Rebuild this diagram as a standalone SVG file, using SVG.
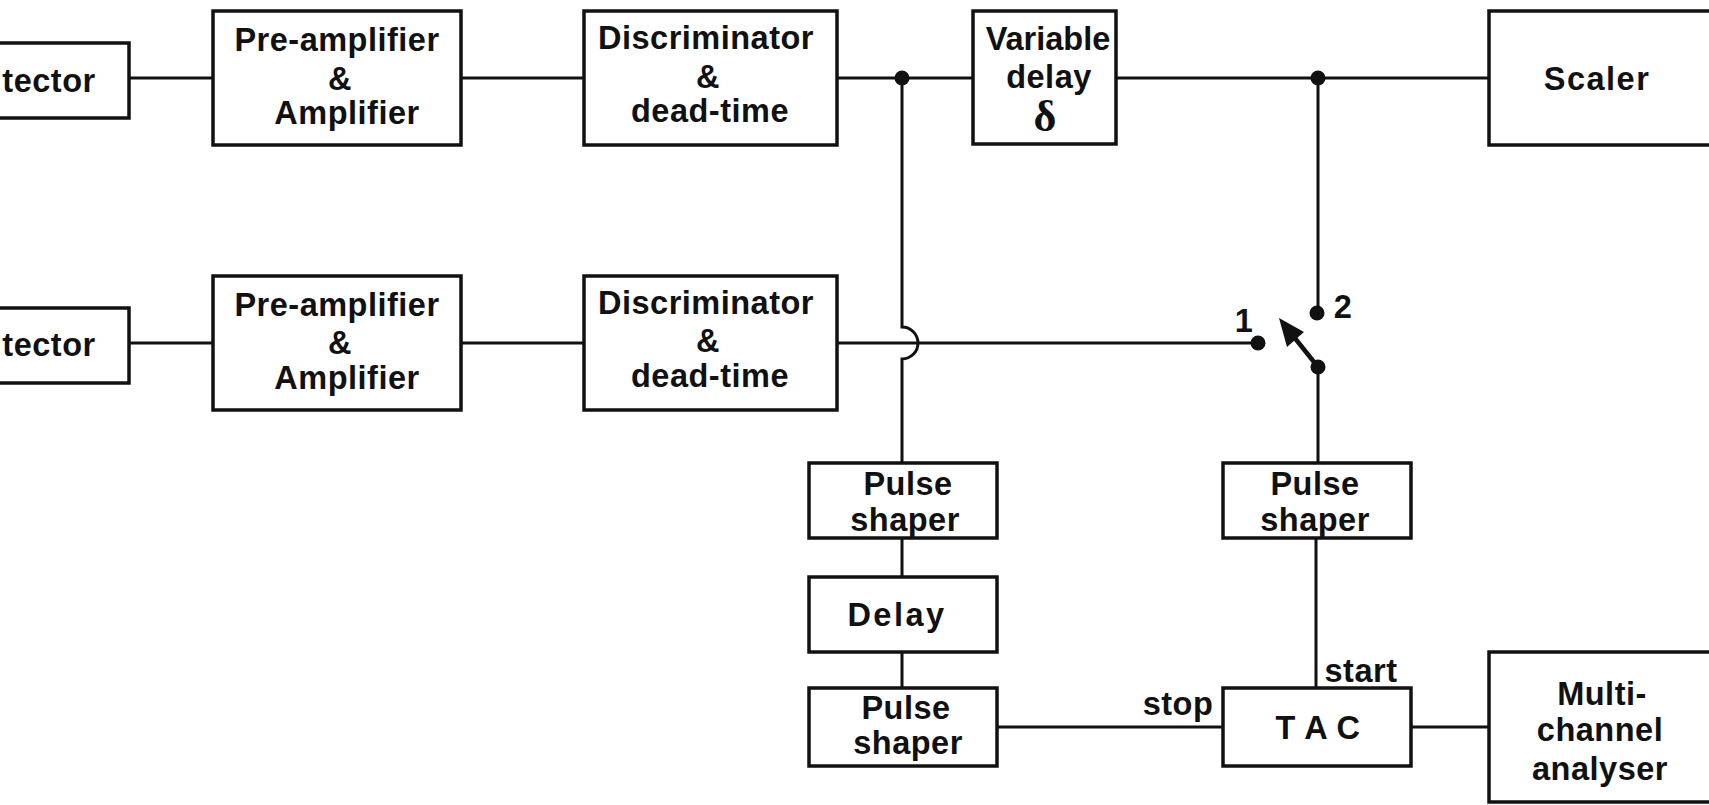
<svg xmlns="http://www.w3.org/2000/svg" width="1709" height="805" viewBox="0 0 1709 805">
<style>
.box{fill:#fff;stroke:#111;stroke-width:3.5}
.w{fill:none;stroke:#111;stroke-width:3}
.t{font-family:"Liberation Sans",Arial,sans-serif;font-weight:bold;font-size:32.5px;fill:#111;text-anchor:middle;letter-spacing:0.5px}
.d{fill:#111}
</style>
<rect width="1709" height="805" fill="#fff"/>
<g id="connectors">
<path class="w" d="M129,78H213M461,78H584M837,78H973M1116,78H1489"/>
<path class="w" d="M129,343H213M461,343H584M837,343H1258"/>
<path class="w" d="M902,78V327A16,16 0 0 1 902,359V463"/>
<path class="w" d="M902,538V577M902,652V688"/>
<path class="w" d="M997,727H1223M1411,727H1489"/>
<path class="w" d="M1318,78V313M1318,367V463M1316,538V688"/>
<line x1="1318" y1="367" x2="1294" y2="337" stroke="#111" stroke-width="4.5"/>
<polygon class="d" points="1279,318 1304,332 1287,347"/>
<circle class="d" cx="902" cy="78" r="7.5"/>
<circle class="d" cx="1318" cy="78" r="7.5"/>
<circle class="d" cx="1258" cy="343" r="7.5"/>
<circle class="d" cx="1317" cy="313" r="7.5"/>
<circle class="d" cx="1318" cy="367" r="7.5"/>
<text class="t" x="1244" y="332">1</text>
<text class="t" x="1343" y="318">2</text>
<text class="t" x="1178" y="715">stop</text>
<text class="t" x="1361" y="682">start</text>
</g>
<g id="detector1">
<rect class="box" x="-10" y="43" width="139" height="75"/>
<text class="t" x="49" y="92">tector</text>
</g>
<g id="preamp1">
<rect class="box" x="213" y="11" width="248" height="134"/>
<text class="t" x="337" y="51">Pre-amplifier</text>
<text class="t" x="340" y="90">&amp;</text>
<text class="t" x="347" y="124">Amplifier</text>
</g>
<g id="disc1">
<rect class="box" x="584" y="11" width="253" height="134"/>
<text class="t" x="706" y="49">Discriminator</text>
<text class="t" x="708" y="88">&amp;</text>
<text class="t" x="710" y="122">dead-time</text>
</g>
<g id="vardelay">
<rect class="box" x="973" y="11" width="143" height="133"/>
<text class="t" x="1048" y="50" style="letter-spacing:0">Variable</text>
<text class="t" x="1049" y="88">delay</text>
<text x="1045" y="131" style="font-family:'Liberation Serif','Times New Roman',serif;font-weight:bold;font-size:44px;fill:#111;text-anchor:middle">δ</text>
</g>
<g id="scaler">
<rect class="box" x="1489" y="11" width="240" height="134"/>
<text class="t" x="1597" y="90" style="letter-spacing:1.5px">Scaler</text>
</g>
<g id="detector2">
<rect class="box" x="-10" y="308" width="139" height="75"/>
<text class="t" x="49" y="356">tector</text>
</g>
<g id="preamp2">
<rect class="box" x="213" y="276" width="248" height="134"/>
<text class="t" x="337" y="316">Pre-amplifier</text>
<text class="t" x="340" y="354">&amp;</text>
<text class="t" x="347" y="389">Amplifier</text>
</g>
<g id="disc2">
<rect class="box" x="584" y="276" width="253" height="134"/>
<text class="t" x="706" y="314">Discriminator</text>
<text class="t" x="708" y="352">&amp;</text>
<text class="t" x="710" y="387">dead-time</text>
</g>
<g id="pulseshaper1">
<rect class="box" x="809" y="463" width="188" height="75"/>
<text class="t" x="908" y="495">Pulse</text>
<text class="t" x="905" y="531">shaper</text>
</g>
<g id="delay">
<rect class="box" x="809" y="577" width="188" height="75"/>
<text class="t" x="897" y="626" style="letter-spacing:2.5px">Delay</text>
</g>
<g id="pulseshaper2">
<rect class="box" x="809" y="688" width="188" height="78"/>
<text class="t" x="906" y="719">Pulse</text>
<text class="t" x="908" y="754">shaper</text>
</g>
<g id="pulseshaper3">
<rect class="box" x="1223" y="463" width="188" height="75"/>
<text class="t" x="1315" y="495">Pulse</text>
<text class="t" x="1315" y="531">shaper</text>
</g>
<g id="tac">
<rect class="box" x="1223" y="688" width="188" height="78"/>
<text class="t" x="1318" y="739">T A C</text>
</g>
<g id="mca">
<rect class="box" x="1489" y="652" width="240" height="150"/>
<text class="t" x="1602" y="705">Multi-</text>
<text class="t" x="1600" y="741">channel</text>
<text class="t" x="1600" y="780">analyser</text>
</g>
</svg>
